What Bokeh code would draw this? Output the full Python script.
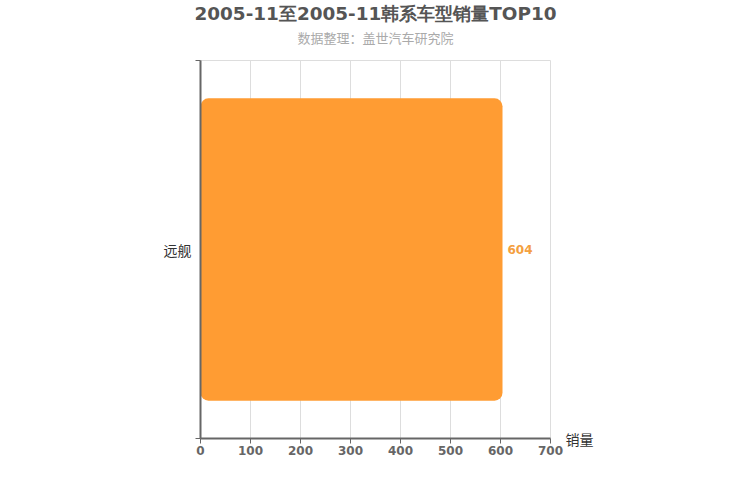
from bokeh.plotting import figure
from bokeh.models import Title, FixedTicker, Range1d, ColumnDataSource, LinearAxis
from bokeh.core.properties import value
from bokeh.embed import file_html
from bokeh.resources import INLINE

title_text = "2005-11至2005-11韩系车型销量TOP10"
subtitle_text = "数据整理：盖世汽车研究院"
categories = ["远舰"]
sales = [604]
x_ticks = [0, 100, 200, 300, 400, 500, 600, 700]
x_name = "销量"

n = len(categories)
ypos = [i + 0.5 for i in range(n)]
src = ColumnDataSource(dict(y=ypos, v=sales, lbl=[str(s) for s in sales]))

p = figure(width=734, height=484, output_backend="svg", toolbar_location=None,
           x_range=Range1d(x_ticks[0], x_ticks[-1]), y_range=Range1d(0, n),
           min_border_left=200, min_border_right=184, min_border_bottom=46, min_border_top=60)
p.title = None
p.background_fill_color = "white"
p.border_fill_color = "white"
p.outline_line_color = "#dddddd"

sub = Title(text=subtitle_text, align="center", text_font="Noto Sans CJK SC",
            text_font_size="13px", text_font_style="normal", text_color="#aaaaaa", standoff=28)
p.add_layout(sub, "above")
ttl = Title(text=title_text, align="center", text_font="DejaVu Sans",
            text_font_size="18.4px", text_font_style="bold", text_color="#555555", standoff=-25)
p.add_layout(ttl, "above")

p.hbar(y="y", right="v", left=0, height=0.8, source=src, fill_color="#ff9c33",
       line_color=None, border_radius=8)
p.text(x="v", y="y", text="lbl", source=src, x_offset=5, text_baseline="middle",
       text_align="left", text_font=value("DejaVu Sans"), text_font_size="12px",
       text_font_style="bold", text_color="#f4a040")

p.xgrid.ticker = FixedTicker(ticks=x_ticks)
p.xgrid.grid_line_color = "#dddddd"
p.ygrid.grid_line_color = None

xa = p.xaxis[0]
xa.ticker = FixedTicker(ticks=x_ticks)
xa.axis_line_color = "#666666"
xa.axis_line_width = 2
xa.major_tick_line_color = "#666666"
xa.major_tick_out = 5
xa.major_tick_in = 0
xa.minor_tick_line_color = None
xa.major_label_text_font = "DejaVu Sans"
xa.major_label_text_font_size = "12px"
xa.major_label_text_font_style = "bold"
xa.major_label_text_color = "#666666"
xa.major_label_standoff = 2

ya = p.yaxis[0]
ya.ticker = FixedTicker(ticks=ypos, minor_ticks=list(range(n + 1)))
ya.major_label_overrides = {y: c for y, c in zip(ypos, categories)}
ya.axis_line_color = "#666666"
ya.axis_line_width = 2
ya.major_tick_line_color = None
ya.minor_tick_line_color = "#666666"
ya.minor_tick_out = 5
ya.minor_tick_in = 0
ya.major_label_text_font = "Noto Sans CJK SC"
ya.major_label_text_font_size = "14px"
ya.major_label_text_color = "#333333"
ya.major_label_standoff = 3

# axis name shown at the end of the x axis, via a tickless right axis
ra = LinearAxis(ticker=FixedTicker(ticks=[0]), major_label_overrides={0: x_name})
ra.axis_line_color = None
ra.major_tick_line_color = None
ra.minor_tick_line_color = None
ra.major_label_standoff = 9
ra.major_label_orientation = "horizontal"
ra.major_label_text_font = "Noto Sans CJK SC"
ra.major_label_text_font_size = "14px"
ra.major_label_text_color = "#333333"
p.add_layout(ra, "right")

open("out.html", "w").write(file_html(p, INLINE))
